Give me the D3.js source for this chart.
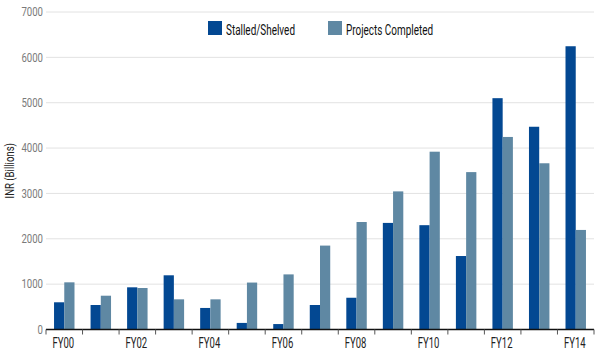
<!DOCTYPE html>
<html>
<head>
<meta charset="utf-8">
<script src="https://cdn.jsdelivr.net/npm/d3@7"></script>
<style>
  body { margin: 0; background: #fff; }
  svg { font-family: Roboto, "Open Sans", sans-serif; }
  .grid line { stroke: #e2e2e2; }
  .y-axis text { fill: #7a7a7a; font-size: 12px; }
  .x-axis text { fill: #222; font-size: 14px; }
</style>
</head>
<body>
<script>
var w = 600;
var h = 353;
var margin = {top: 12, right: 6, bottom: 23.5, left: 46};

// fiscal years and values, INR billions
var years = ["FY00", "FY01", "FY02", "FY03", "FY04", "FY05", "FY06", "FY07",
             "FY08", "FY09", "FY10", "FY11", "FY12", "FY13", "FY14"];
var stalled = [600, 540, 930, 1195, 475, 145, 120, 540, 700, 2350, 2300, 1620, 5100, 4470, 6245];
var completed = [1040, 745, 915, 665, 665, 1035, 1215, 1850, 2370, 3045, 3920, 3470, 4245, 3665, 2195];
var seriesNames = ["Stalled/Shelved", "Projects Completed"];
var colors = ["#034892", "#5f88a3"];
var yTicks = [0, 1000, 2000, 3000, 4000, 5000, 6000, 7000];

// the original uses a condensed face, squeeze text horizontally
function narrow(k) { return "scale(" + k + ",1)"; }

var svg = d3.select("body").append("svg")
    .attr("width", w)
    .attr("height", h);

var x = d3.scaleBand()
  .domain(years)
  .range([margin.left, w - margin.right])
  .paddingInner(0.44)
  .paddingOuter(0.22);

var x1 = d3.scaleBand()
  .domain([0, 1])
  .range([0, x.bandwidth()]);

var y = d3.scaleLinear()
  .domain([0, 7000])
  .range([h - margin.bottom, margin.top]);

// gridlines
svg.append("g")
  .attr("class", "grid")
  .selectAll("line")
  .data(yTicks.slice(1))
  .enter().append("line")
    .attr("x1", margin.left)
    .attr("x2", w - margin.right)
    .attr("y1", function(d) { return y(d); })
    .attr("y2", function(d) { return y(d); });

// y axis labels only
var yAxis = svg.append("g")
  .attr("class", "y-axis")
  .attr("transform", "translate(" + (margin.left - 3) + ",0)")
  .call(d3.axisLeft(y).tickValues(yTicks).tickFormat(d3.format("d")).tickSize(0).tickPadding(0));
yAxis.select(".domain").remove();
yAxis.attr("font-family", null).attr("font-size", null);
yAxis.selectAll("text").attr("transform", narrow(0.8));

svg.append("text")
  .attr("transform", "translate(14," + ((margin.top + h - margin.bottom) / 2) + ") rotate(-90) " + narrow(0.8))
  .attr("text-anchor", "middle")
  .attr("font-size", 12)
  .attr("fill", "#222")
  .text("INR (Billions)");

// bars
var rows = years.map(function(d, i) {
  return {year: d, values: [stalled[i], completed[i]]};
});

var groups = svg.append("g")
  .selectAll("g")
  .data(rows)
  .enter().append("g")
    .attr("transform", function(d) { return "translate(" + x(d.year) + ",0)"; });

groups.selectAll("rect")
  .data(function(d) { return d.values; })
  .enter().append("rect")
    .attr("x", function(d, i) { return x1(i); })
    .attr("y", function(d) { return y(d); })
    .attr("width", x1.bandwidth())
    .attr("height", function(d) { return y(0) - y(d); })
    .attr("fill", function(d, i) { return colors[i]; });

// x axis with ticks at band edges
var xAxis = svg.append("g")
  .attr("class", "x-axis")
  .attr("transform", "translate(0," + y(0) + ")");

xAxis.append("line")
  .attr("x1", margin.left)
  .attr("x2", w - margin.right)
  .attr("stroke", "#111")
  .attr("stroke-width", 1.5);

var edges = years.map(function(d) { return x(d) - x.step() * x.paddingInner() / 2; });
edges.push(w - margin.right);
edges[0] = margin.left;

xAxis.selectAll(".tk")
  .data(edges)
  .enter().append("line")
    .attr("class", "tk")
    .attr("x1", function(d) { return d; })
    .attr("x2", function(d) { return d; })
    .attr("y1", 0)
    .attr("y2", 5)
    .attr("stroke", "#555");

xAxis.selectAll("text")
  .data(years.filter(function(d, i) { return i % 2 === 0; }))
  .enter().append("text")
    .attr("transform", function(d) {
      return "translate(" + (x(d) + x.bandwidth() / 2 - 1) + ",18) " + narrow(0.68);
    })
    .attr("text-anchor", "middle")
    .text(function(d) { return d; });

// legend
var legendX = [208, 328];
var legend = svg.append("g")
  .selectAll("g")
  .data(seriesNames)
  .enter().append("g")
    .attr("transform", function(d, i) { return "translate(" + legendX[i] + ",21)"; });

legend.append("rect")
  .attr("width", 14)
  .attr("height", 14)
  .attr("fill", function(d, i) { return colors[i]; });

legend.append("text")
  .attr("transform", "translate(18,14) " + narrow(0.71))
  .attr("font-size", 14)
  .attr("fill", "#111")
  .text(function(d) { return d; });
</script>
</body>
</html>
